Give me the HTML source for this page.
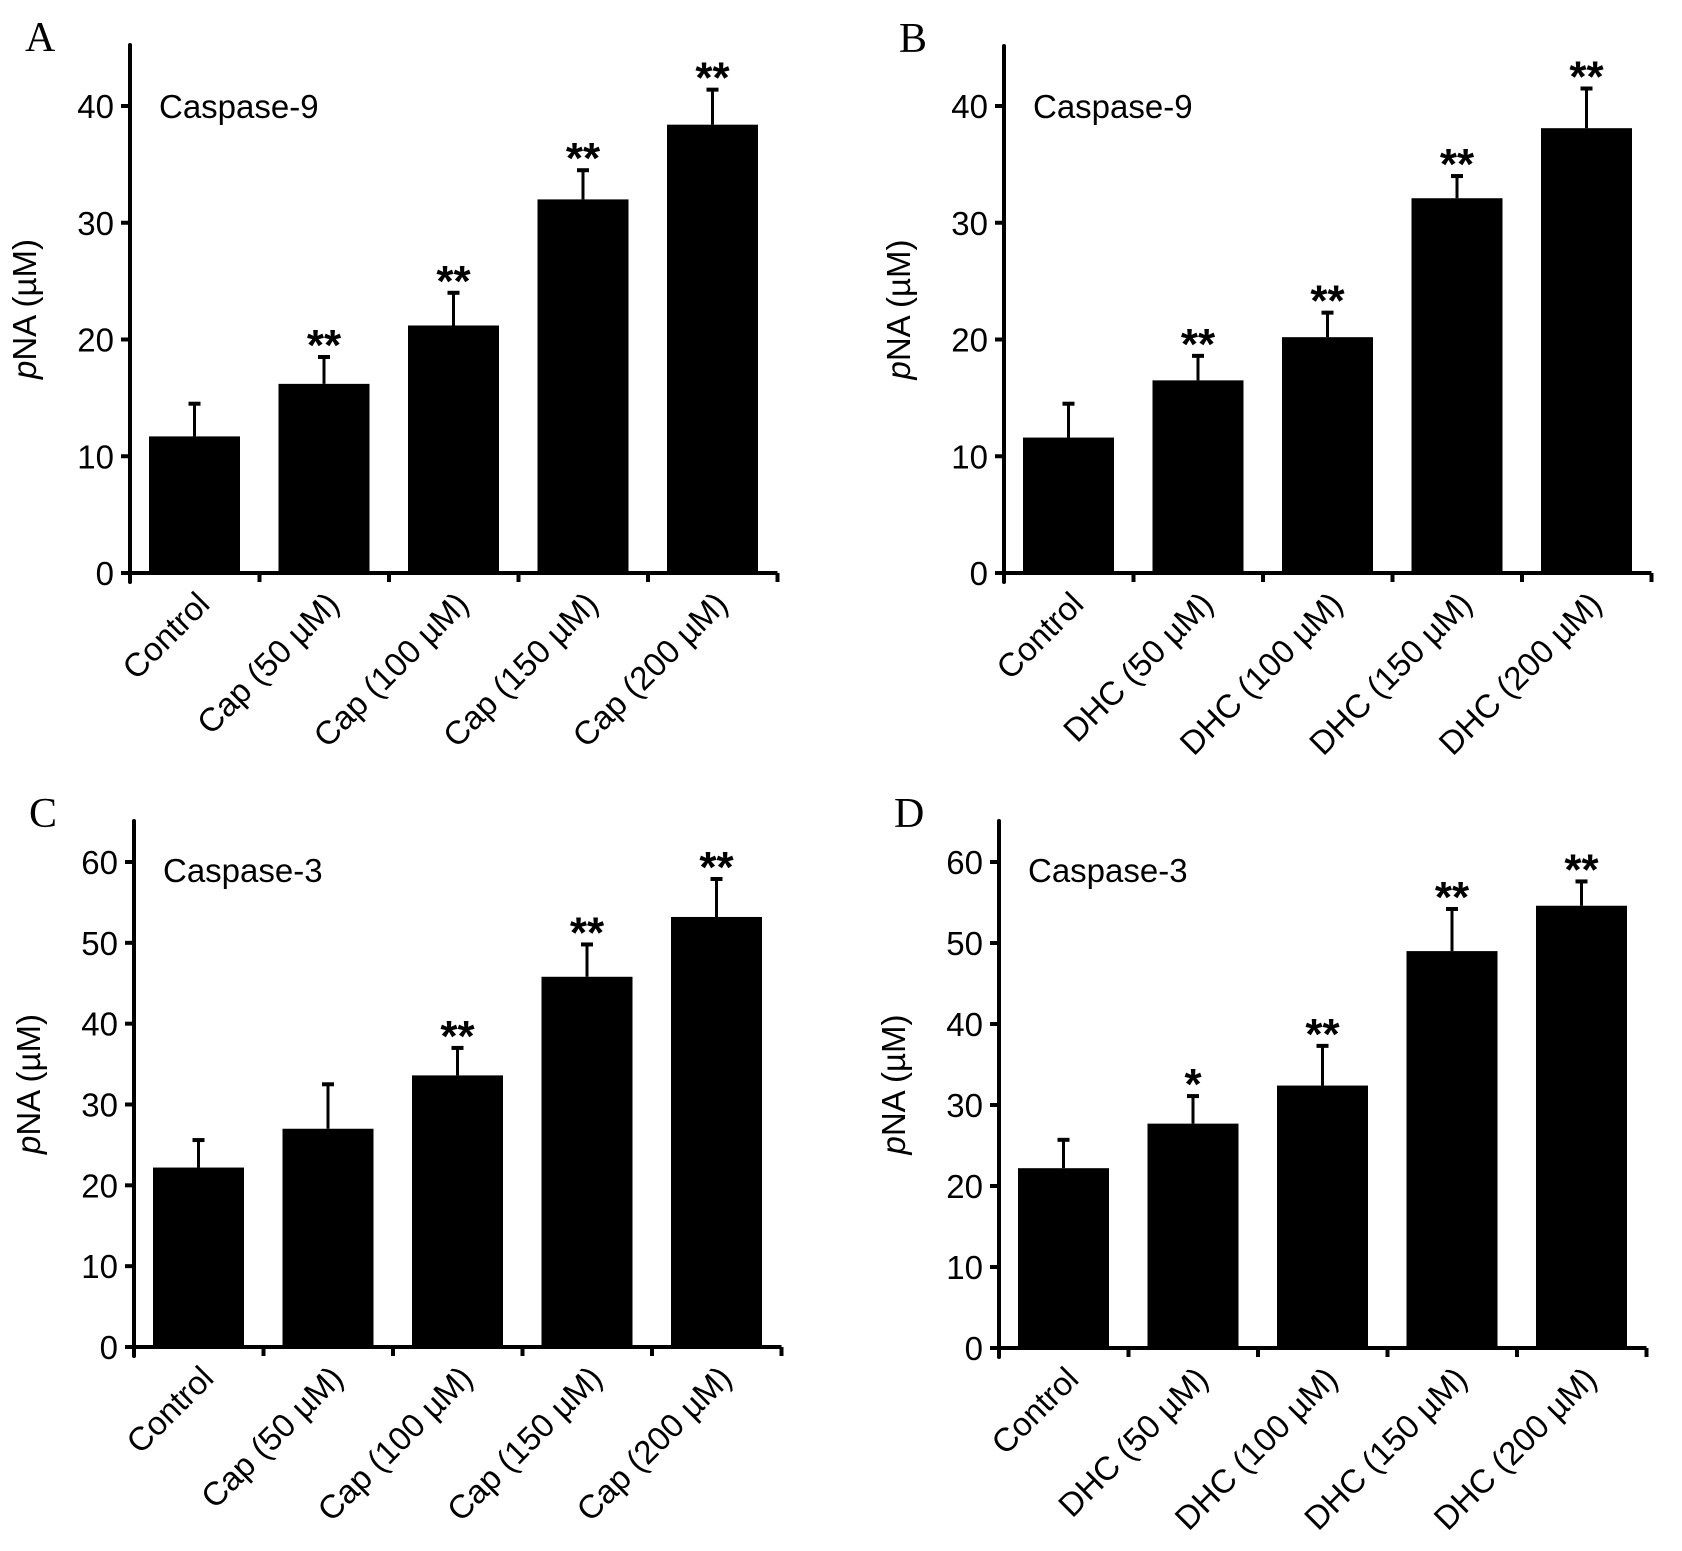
<!DOCTYPE html>
<html><head><meta charset="utf-8"><style>
body{margin:0;background:#fff}
svg text{font-family:"Liberation Sans",Arial,sans-serif;fill:#000}
</style></head><body>
<svg id="fig" width="1682" height="1546" viewBox="0 0 1682 1546" xmlns="http://www.w3.org/2000/svg"></svg>
<script>
const catsCap = ["Control","Cap (50 µM)","Cap (100 µM)","Cap (150 µM)","Cap (200 µM)"];
const catsDhc = ["Control","DHC (50 µM)","DHC (100 µM)","DHC (150 µM)","DHC (200 µM)"];
const valsA = [11.7,16.2,21.2,32.0,38.4];
const errA = [14.5,18.5,24.0,34.5,41.4];
const starsA = ["","**","**","**","**"];
const valsB = [11.6,16.5,20.2,32.1,38.1];
const errB = [14.5,18.6,22.3,34.0,41.5];
const starsB = ["","**","**","**","**"];
const valsC = [22.2,27.0,33.6,45.8,53.2];
const errC = [25.6,32.5,37.0,49.8,57.9];
const starsC = ["","","**","**","**"];
const valsD = [22.2,27.7,32.4,49.0,54.6];
const errD = [25.7,31.1,37.3,54.2,57.6];
const starsD = ["","*","**","**","**"];
const ticks9 = [0,10,20,30,40];
const ticks3 = [0,10,20,30,40,50,60];

const NS="http://www.w3.org/2000/svg";
const svg=document.getElementById('fig');
function mk(tag,attrs,parent){const e=document.createElementNS(NS,tag);for(const k in attrs)e.setAttribute(k,attrs[k]);(parent||svg).appendChild(e);return e;}

function panel(o){
  const g=mk('g',{});
  
  
  const catW=129.5, barW=91, off=19;
  const y=v=>o.y0-(o.y0-o.yRef)*v/o.refVal;
  const xc=i=>o.x0+catW*i;
  const xEnd=o.x0+catW*o.cats.length;
  const L=mk('text',{x:o.x0-105,y:o.top+6,'font-size':42,style:'font-family:"Liberation Serif",serif'},g);
  L.textContent=o.letter;
  
  
  o.vals.forEach((v,i)=>{
    const bx=xc(i)+off;
    const cx=bx+barW/2;
    const ey=y(o.err[i]);
    const ln=mk('line',{x1:cx,x2:cx,y1:y(v),y2:ey,stroke:'#000','stroke-width':3},g);
    
    
    const cap=mk('line',{x1:cx-6,x2:cx+6,y1:ey,y2:ey,stroke:'#000','stroke-width':4},g);
    
    
    const r=mk('rect',{x:bx,y:y(v),width:barW,height:o.y0-y(v),fill:'#000'},g);
    
    
    if(o.stars[i]){
      const s=mk('text',{x:cx,y:ey+3,'text-anchor':'middle','font-size':44,'font-weight':'bold'},g);
      s.textContent=o.stars[i];
      
      
    }
    const t=mk('text',{'text-anchor':'end','font-size':33,transform:`translate(${cx+17},${o.y0+33}) rotate(-45)`},g);
    t.textContent=o.cats[i];
    
    
  });
  const ya=mk('line',{x1:o.x0,x2:o.x0,y1:o.top,y2:o.y0+9,stroke:'#000','stroke-width':4,'stroke-linecap':'round'},g);
  
  
  const xa=mk('line',{x1:o.x0-9,x2:xEnd,y1:o.y0,y2:o.y0,stroke:'#000','stroke-width':4},g);
  
  
  for(let i=1;i<=o.cats.length;i++){
    const tk=mk('line',{x1:xc(i),x2:xc(i),y1:o.y0,y2:o.y0+9,stroke:'#000','stroke-width':4},g);
    
    
  }
  o.ticks.forEach(v=>{
    const tk=mk('line',{x1:o.x0-9,x2:o.x0,y1:y(v),y2:y(v),stroke:'#000','stroke-width':4},g);
    
    
    const tl=mk('text',{x:o.x0-16,y:y(v)+12,'text-anchor':'end','font-size':33},g);
    tl.textContent=v;
    
    
  });
  const yt=mk('text',{'text-anchor':'middle','font-size':33,transform:`translate(${o.x0-94},${(o.top+o.y0)/2}) rotate(-90)`},g);
  yt.innerHTML='<tspan font-style="italic">p</tspan>NA (µM)';
  
  
  const ct=mk('text',{x:o.x0+29,y:o.yTop+12,'font-size':33},g);
  ct.textContent=o.title;
  
  
}
panel({letter:'A',x0:130,y0:573,top:45,yRef:106,refVal:40,yTop:106,cats:catsCap,vals:valsA,err:errA,stars:starsA,ticks:ticks9,title:'Caspase-9'});
panel({letter:'B',x0:1004,y0:573,top:46,yRef:106,refVal:40,yTop:106,cats:catsDhc,vals:valsB,err:errB,stars:starsB,ticks:ticks9,title:'Caspase-9'});
panel({letter:'C',x0:134,y0:1347,top:821,yRef:862,refVal:60,yTop:870,cats:catsCap,vals:valsC,err:errC,stars:starsC,ticks:ticks3,title:'Caspase-3'});
panel({letter:'D',x0:999,y0:1348,top:821,yRef:862,refVal:60,yTop:870,cats:catsDhc,vals:valsD,err:errD,stars:starsD,ticks:ticks3,title:'Caspase-3'});
</script>
</body></html>
